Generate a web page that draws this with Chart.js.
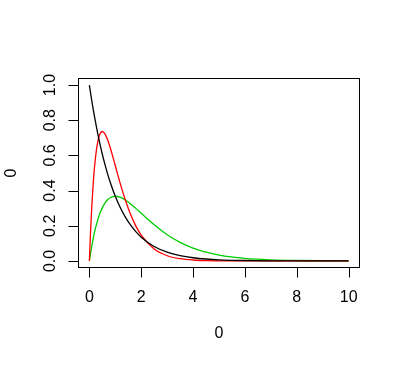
<!DOCTYPE html>
<html>
<head>
<meta charset="utf-8">
<script src="https://cdn.jsdelivr.net/npm/chart.js@4"></script>
<style>
  html, body { margin: 0; padding: 0; background: #fff; }
  #wrap { width: 400px; height: 366px; }
</style>
</head>
<body>
<div id="wrap"><canvas id="grafico"></canvas></div>
<script>
// valores
var xs = [0, 0.05, 0.1, 0.15, 0.2, 0.3, 0.4, 0.5, 0.6, 0.7, 0.8, 1.0, 1.2, 1.4, 1.6, 1.8, 2.0, 2.5, 3, 3.5, 4, 4.5, 5, 6, 7, 8, 9, 10];
var preto = [1, 0.9512, 0.9048, 0.8607, 0.8187, 0.7408, 0.6703, 0.6065, 0.5488, 0.4966, 0.4493, 0.3679, 0.3012, 0.2466, 0.2019, 0.1653, 0.1353, 0.0821, 0.0498, 0.0302, 0.0183, 0.0111, 0.0067, 0.0025, 0.0009, 0.0003, 0.0001, 0];
var vermelho = [0, 0.181, 0.3275, 0.4445, 0.5363, 0.6586, 0.7189, 0.7358, 0.7229, 0.6905, 0.6461, 0.5413, 0.4354, 0.3405, 0.2609, 0.1967, 0.1465, 0.0674, 0.0297, 0.0128, 0.0054, 0.0022, 0.0009, 0.0001, 0, 0, 0, 0];
var verde = [0, 0.0476, 0.0905, 0.1291, 0.1637, 0.2222, 0.2681, 0.3033, 0.3293, 0.3476, 0.3595, 0.3679, 0.3614, 0.3452, 0.3230, 0.2975, 0.2707, 0.2052, 0.1494, 0.1057, 0.0733, 0.0500, 0.0337, 0.0149, 0.0064, 0.0027, 0.0011, 0.0005];

var xTicks = [0, 2, 4, 6, 8, 10];
var yTicks = [0, 0.2, 0.4, 0.6, 0.8, 1.0];
var xTitulo = '0';
var yTitulo = '0';

var pontos = function(ys) {
    return xs.map(function(x, i) { return { x: x, y: ys[i] }; });
};

var fonte = '16px "Liberation Sans", Arial, sans-serif';

// eixos estilo R: caixa, traços e etiquetas
var eixosR = {
    id: 'eixosR',
    afterDraw: function(chart) {
        var ctx = chart.ctx;
        var a = chart.chartArea;
        var sx = chart.scales.x;
        var sy = chart.scales.y;
        ctx.save();
        ctx.strokeStyle = '#000';
        ctx.lineWidth = 1;
        ctx.strokeRect(a.left - 0.5, a.top + 0.5, a.right - a.left + 1, a.bottom - a.top - 1);

        ctx.fillStyle = '#000';
        ctx.font = fonte;
        ctx.textAlign = 'center';
        ctx.textBaseline = 'middle';

        // eixo x
        var yb = a.bottom - 0.5;
        ctx.beginPath();
        ctx.moveTo(sx.getPixelForValue(xTicks[0]), yb);
        ctx.lineTo(sx.getPixelForValue(xTicks[xTicks.length - 1]), yb);
        xTicks.forEach(function(t) {
            var px = Math.round(sx.getPixelForValue(t)) + 0.5;
            ctx.moveTo(px, yb);
            ctx.lineTo(px, yb + 10);
        });
        ctx.stroke();
        xTicks.forEach(function(t) {
            ctx.fillText(String(t), sx.getPixelForValue(t), 298);
        });

        // eixo y
        var xl = a.left - 0.5;
        ctx.beginPath();
        ctx.moveTo(xl, sy.getPixelForValue(yTicks[0]));
        ctx.lineTo(xl, sy.getPixelForValue(yTicks[yTicks.length - 1]));
        yTicks.forEach(function(t) {
            var py = Math.round(sy.getPixelForValue(t)) + 0.5;
            ctx.moveTo(xl, py);
            ctx.lineTo(xl - 10, py);
        });
        ctx.stroke();
        yTicks.forEach(function(t) {
            ctx.save();
            ctx.translate(51, sy.getPixelForValue(t));
            ctx.rotate(-Math.PI / 2);
            ctx.fillText(t.toFixed(1), 0, 0);
            ctx.restore();
        });

        // títulos
        ctx.fillText(xTitulo, (a.left + a.right) / 2, 334);
        ctx.save();
        ctx.translate(12, (a.top + a.bottom) / 2);
        ctx.rotate(-Math.PI / 2);
        ctx.fillText(yTitulo, 0, 0);
        ctx.restore();
        ctx.restore();
    }
};

var linha = function(dados, cor) {
    return {
        data: pontos(dados),
        borderColor: cor,
        borderWidth: 1.3,
        pointRadius: 0,
        fill: false,
        cubicInterpolationMode: 'monotone'
    };
};

var ctx1 = document.getElementById('grafico').getContext('2d');
var meuGrafico = new Chart(ctx1, {
    type: 'line',
    data: {
        datasets: [
            linha(preto, '#000000'),
            linha(vermelho, '#FF0000'),
            linha(verde, '#00CD00')
        ]
    },
    options: {
        responsive: true,
        maintainAspectRatio: false,
        animation: false,
        layout: { padding: { left: 79, right: 41, top: 78, bottom: 98 } },
        plugins: { legend: { display: false }, tooltip: { enabled: false } },
        scales: {
            x: { type: 'linear', min: -0.4, max: 10.4, display: false },
            y: { type: 'linear', min: -0.04, max: 1.04, display: false }
        }
    },
    plugins: [eixosR]
});
</script>
</body>
</html>
